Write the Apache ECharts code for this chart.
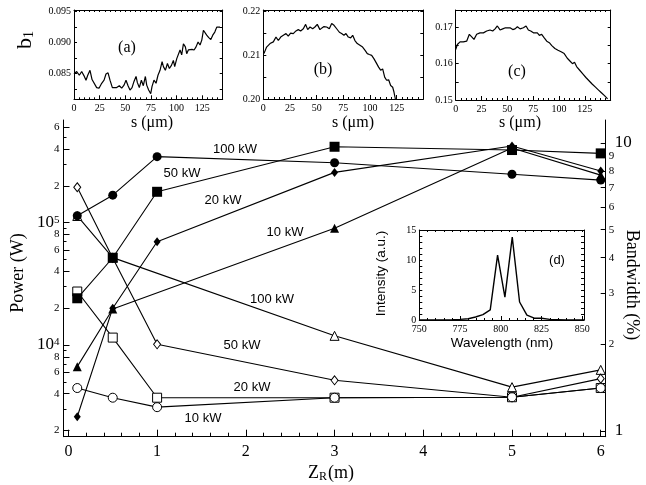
<!DOCTYPE html>
<html>
<head>
<meta charset="utf-8">
<script src="https://cdn.jsdelivr.net/npm/echarts@6.0.0/dist/echarts.min.js"></script>
<style>
  html, body { margin: 0; padding: 0; background: #fff; }
  #chart { width: 646px; height: 485px; }
</style>
</head>
<body>
<div id="chart"></div>
<script>
// ---- main plot data: Z_R (m) ----
var zr = [0.1, 0.5, 1, 3, 5, 6];
// output power (W), filled symbols, left axis
var pow100 = [1.14e5, 1.68e5, 3.47e5, 3.09e5, 2.49e5, 2.23e5];
var pow50  = [2.41e4, 5.17e4, 1.79e5, 4.18e5, 3.93e5, 3.69e5];
var pow20  = [2.59e3, 2.0e4, 6.99e4, 2.58e5, 4.24e5, 2.65e5];
var pow10  = [6.65e3, 1.97e4, null, 9.0e4, 4.08e5, 2.45e5];
// bandwidth (%), open symbols, right axis
var bw100 = [5.58, 4.0, null, 2.14, 1.42, 1.63];
var bw50  = [7.02, 3.99, 2.0, 1.5, 1.31, 1.52];
var bw20  = [3.05, 2.11, 1.305, 1.305, 1.31, 1.41];
var bw10  = [1.41, 1.305, 1.21, 1.305, 1.31, 1.41];

// tick labels
var xLabels = [0, 1, 2, 3, 4, 5, 6];
var powLabels = [2e3, 4e3, 6e3, 8e3, 1e4, 2e4, 4e4, 6e4, 8e4, 1e5, 2e5, 4e5, 6e5];
var powMinor = [3e3, 5e3, 7e3, 9e3, 3e4, 5e4, 7e4, 9e4, 3e5, 5e5];
var bwLabels = [1, 2, 3, 4, 5, 6, 7, 8, 9, 10];

// ---- inset (a) b1 vs s ----
var sA = [0, 2.6, 5.2, 7.5, 9.8, 11.7, 13.4, 15.6, 17.6, 19.5, 22.1, 24.4, 27, 29.3, 31.2, 33.2, 35.1, 37.4, 39.3, 41.6,
  44.2, 46.5, 48.8, 50.7, 52.7, 54.6, 56.6, 58.5, 60.5, 61.8, 63.7, 65.7, 67.6, 69.6, 70.9, 72.8, 74.8, 76.1, 78, 80,
  81.9, 83.9, 85.9, 87.2, 89.1, 91.1, 93, 95, 96.9, 98.2, 100.2, 102.1, 103.4, 105, 106.7, 108.6, 109.9, 111.5, 113.2,
  115.1, 117.1, 119, 121, 122.9, 124.6, 126.2, 127.8, 129.4, 131.4, 133.4, 135.3, 137.3, 139.2, 140.8, 142.4];
var bA = [0.0849, 0.0853, 0.0847, 0.0853, 0.0846, 0.0839, 0.0847, 0.0855, 0.0840, 0.0837, 0.0827, 0.0826, 0.0834, 0.0839,
  0.0849, 0.0851, 0.0839, 0.0827, 0.0826, 0.0827, 0.0830, 0.0826, 0.0831, 0.0839, 0.0830, 0.0823, 0.0827, 0.0837, 0.0845,
  0.0835, 0.0827, 0.0839, 0.0830, 0.0845, 0.0831, 0.0823, 0.0817, 0.0829, 0.0839, 0.0834, 0.0847, 0.0855, 0.0869, 0.0861,
  0.0855, 0.0866, 0.0858, 0.0863, 0.0871, 0.0861, 0.0874, 0.0877, 0.0888, 0.0880, 0.0898, 0.0893, 0.0882, 0.0888, 0.0885,
  0.0889, 0.0888, 0.0893, 0.0901, 0.0896, 0.0904, 0.0920, 0.0917, 0.0912, 0.0908, 0.0905, 0.0912, 0.0917, 0.0925, 0.0922, 0.0925];

// ---- inset (b) ----
var sB = [0.6, 3.1, 6.3, 9.4, 11.9, 14.1, 16.3, 18.8, 21.3, 23.4, 25.6, 28.1, 30.6, 32.8, 35, 37.5, 39.7, 41.6, 43.8, 46.3,
  48.4, 50.6, 53.1, 55, 56.9, 59.4, 61.9, 64.1, 66.3, 68.8, 71.3, 73.4, 75.6, 77.5, 79.7, 81.9, 83.8, 85.9, 88.1, 90.6,
  93.1, 95.6, 97.5, 99.4, 101.6, 103.8, 106.3, 108.1, 110, 111.9, 113.8, 115.6, 117.5, 119.4, 121.3, 122.5, 123.8];
var bB = [0.2104, 0.2119, 0.2127, 0.2131, 0.2142, 0.2134, 0.2142, 0.2146, 0.2150, 0.2144, 0.2151, 0.2150, 0.2156, 0.2159,
  0.2156, 0.2161, 0.2171, 0.2159, 0.2165, 0.2161, 0.2165, 0.2171, 0.2159, 0.2163, 0.2166, 0.2165, 0.2161, 0.2173, 0.2169,
  0.2161, 0.2153, 0.2150, 0.2146, 0.2150, 0.2142, 0.2140, 0.2146, 0.2134, 0.2127, 0.2123, 0.2119, 0.2111, 0.2104, 0.2102,
  0.2100, 0.2092, 0.2081, 0.2073, 0.2066, 0.2069, 0.2050, 0.2043, 0.2044, 0.2031, 0.2027, 0.2016, 0.2000];

// ---- inset (c) ----
var sC = [0, 1.6, 4.2, 7.4, 10.6, 13.2, 15.5, 17.7, 20.3, 23.5, 26.8, 30, 33.2, 35.8, 38.1, 40.3, 42.9, 45.5, 48.1, 50,
  52.6, 55.2, 57.4, 59.7, 62.3, 65.5, 68.1, 70.3, 72.6, 75.2, 77.1, 79, 81, 83.2, 85.5, 88.1, 90.6, 93, 96, 99, 102, 105,
  108, 111, 113, 115, 117, 120, 123, 126, 129, 132, 135, 138, 141, 144, 147];
var bC = [0.1639, 0.1653, 0.1660, 0.1660, 0.1662, 0.1681, 0.1674, 0.1667, 0.1681, 0.1685, 0.1685, 0.1690, 0.1693, 0.1690,
  0.1696, 0.1704, 0.1693, 0.1696, 0.1699, 0.1696, 0.1699, 0.1694, 0.1696, 0.1702, 0.1696, 0.1699, 0.1704, 0.1693, 0.1690,
  0.1685, 0.1681, 0.1685, 0.1678, 0.1681, 0.1672, 0.1662, 0.1658, 0.1650, 0.1642, 0.1637, 0.1633, 0.1628, 0.1615, 0.1606,
  0.1600, 0.1604, 0.1592, 0.1582, 0.1572, 0.1562, 0.1553, 0.1544, 0.1536, 0.1528, 0.1520, 0.1512, 0.1503];

// ---- inset (d) spectrum ----
var wl = [750, 760, 770, 775, 780, 784.5, 789, 793.5, 798, 802.5, 807, 811.5, 816, 820.5, 825, 830, 840, 851];
var inten = [0, 0, 0.05, 0.1, 0.2, 0.5, 0.9, 1.7, 10.8, 3.8, 13.8, 3.0, 0.8, 0.3, 0.3, 0.1, 0, 0];

var SERIF = "'Liberation Serif', 'DejaVu Serif', serif";
var SANS = "'Liberation Sans', Arial, sans-serif";

function steps(a, b, d) {
  var out = [];
  for (var i = 0; a + i * d <= b + d * 1e-6; i++) out.push(+(a + i * d).toFixed(6));
  return out;
}
function lg(arr) { return arr.map(function (v) { return Math.log10(v); }); }

// generic value axis, ticks/labels given explicitly
function axis(o) {
  var a = {
    type: 'value', gridIndex: o.grid, position: o.pos, min: o.min, max: o.max,
    axisLine: { show: o.line !== false, onZero: false, lineStyle: { color: '#000', width: 1 } },
    axisTick: { show: !!o.ticks, inside: true, length: o.len || 4, customValues: o.ticks || [0],
      lineStyle: { color: '#000', width: 1 } },
    axisLabel: { show: false },
    splitLine: { show: false },
    silent: true
  };
  if (o.labels) {
    a.axisLabel = { show: true, customValues: o.labels, formatter: o.fmt, margin: o.margin == null ? 4 : o.margin,
      fontFamily: SERIF, fontSize: o.fs || 10, color: '#000', rich: o.rich };
  }
  return a;
}

function intFmt(v) { return String(Math.round(v)); }

var xAxes = [], yAxes = [];
// main plot (grid 0)
xAxes.push(axis({ grid: 0, pos: 'bottom', min: -0.055, max: 6.056, labels: xLabels, ticks: xLabels, len: 7,
  fmt: intFmt, fs: 16, margin: 7 }));
xAxes.push(axis({ grid: 0, pos: 'bottom', min: -0.055, max: 6.056, ticks: steps(0, 6, 0.2), len: 4, line: false }));
var richPow = {
  b: { fontFamily: SERIF, fontSize: 17, color: '#000' },
  e: { fontFamily: SERIF, fontSize: 11, color: '#000', verticalAlign: 'top' },
  s: { fontFamily: SERIF, fontSize: 11, color: '#000' }
};
yAxes.push(axis({ grid: 0, pos: 'left', min: 3.25, max: 5.84, labels: lg(powLabels), ticks: lg(powLabels), len: 6,
  rich: richPow,
  fmt: function (v) {
    var e = Math.floor(v + 1e-6), m = Math.round(Math.pow(10, v - e));
    return m === 1 ? '{b|10}{e|' + e + '}' : '{s|' + m + '}';
  } }));
yAxes.push(axis({ grid: 0, pos: 'left', min: 3.25, max: 5.84, ticks: lg(powMinor), len: 3, line: false }));
yAxes.push(axis({ grid: 0, pos: 'right', min: -0.0198, max: 1.0799, labels: lg(bwLabels), ticks: lg(bwLabels), len: 5,
  margin: 3,
  rich: {
    b: { fontFamily: SERIF, fontSize: 17, color: '#000', padding: [0, 0, 0, 6] },
    s: { fontFamily: SERIF, fontSize: 11, color: '#000' }
  },
  fmt: function (v) {
    var m = Math.round(Math.pow(10, v));
    return (m === 1 || m === 10) ? '{b|' + m + '}' : '{s|' + m + '}';
  } }));

// boxed insets: each gets bottom(labels), bottom minor, top, left(labels), right
function inset(g, xr, yr, xlab, xmin, ylab, ymaj, yfmt) {
  var xi = xAxes.length, yi = yAxes.length;
  xAxes.push(axis({ grid: g, pos: 'bottom', min: xr[0], max: xr[1], labels: xlab, ticks: xlab, len: 4, fmt: intFmt, margin: 4 }));
  xAxes.push(axis({ grid: g, pos: 'bottom', min: xr[0], max: xr[1], ticks: xmin, len: 2, line: false }));
  xAxes.push(axis({ grid: g, pos: 'top', min: xr[0], max: xr[1], ticks: xmin, len: 2 }));
  yAxes.push(axis({ grid: g, pos: 'left', min: yr[0], max: yr[1], labels: ylab, ticks: ymaj, len: 3, fmt: yfmt, margin: 3 }));
  yAxes.push(axis({ grid: g, pos: 'right', min: yr[0], max: yr[1], ticks: ymaj, len: 3 }));
  return { x: xi, y: yi };
}
var axA = inset(1, [0, 145], [0.0808, 0.09528], steps(0, 125, 25), steps(0, 145, 5),
  [0.085, 0.09, 0.095], steps(0.0825, 0.095, 0.0025), function (v) { return v.toFixed(3); });
var axB = inset(2, [0, 150], [0.2, 0.2204], steps(0, 125, 25), steps(0, 150, 5),
  [0.2, 0.21, 0.22], steps(0.2, 0.22, 0.005), function (v) { return v.toFixed(2); });
var axC = inset(3, [0, 150], [0.15, 0.1748], steps(0, 125, 25), steps(0, 150, 5),
  [0.15, 0.16, 0.17], steps(0.15, 0.17, 0.005), function (v) { return v.toFixed(2); });
var axD = inset(4, [750, 851], [0, 15], steps(750, 850, 25), steps(750, 850, 5),
  [0, 5, 10, 15], steps(0, 15, 1), intFmt);

function mainLine(ys, yIdx, log, symbol, size, filled, z) {
  var data = [];
  zr.forEach(function (x, i) {
    if (ys[i] != null) data.push([x, log ? Math.log10(ys[i]) : ys[i]]);
  });
  return {
    type: 'line', xAxisIndex: 0, yAxisIndex: yIdx, data: data, symbol: symbol, symbolSize: size,
    showSymbol: true, clip: false, z: z,
    lineStyle: { color: '#000', width: 1.1 },
    itemStyle: filled ? { color: '#000', borderWidth: 0 } : { color: '#fff', borderColor: '#000', borderWidth: 1 }
  };
}
function insetLine(ax, xs, ys, w) {
  return {
    type: 'line', xAxisIndex: ax.x, yAxisIndex: ax.y, showSymbol: false, symbol: 'none',
    data: xs.map(function (x, i) { return [x, ys[i]]; }),
    lineStyle: { color: '#000', width: w }
  };
}

var series = [
  // bandwidth, open symbols (right axis index 2)
  mainLine(bw100, 2, true, 'triangle', 9, false, 3),
  mainLine(bw50, 2, true, 'diamond', [7, 9], false, 3),
  mainLine(bw20, 2, true, 'rect', 9, false, 3),
  mainLine(bw10, 2, true, 'circle', 9, false, 3),
  // power, filled symbols (left axis index 0)
  mainLine(pow100, 0, true, 'circle', 9, true, 4),
  mainLine(pow20, 0, true, 'diamond', [7, 9], true, 4),
  mainLine(pow50, 0, true, 'rect', 10, true, 4),
  mainLine(pow10, 0, true, 'triangle', 9, true, 4),
  insetLine(axA, sA, bA, 1.2),
  insetLine(axB, sB, bB, 1.2),
  insetLine(axC, sC, bC, 1.2),
  insetLine(axD, wl, inten, 1.4)
];

function txt(x, y, s, size, font, rot) {
  return { type: 'text', x: x, y: y, rotation: rot || 0, silent: true,
    style: { text: s, fontSize: size, fontFamily: font, fill: '#000', align: 'center', verticalAlign: 'middle' } };
}

var graphics = [
  // series annotations (upper group: power, lower group: bandwidth)
  txt(235, 149, '100 kW', 13, SANS), txt(182, 173, '50 kW', 13, SANS),
  txt(223, 200, '20 kW', 13, SANS), txt(285, 232, '10 kW', 13, SANS),
  txt(272, 299, '100 kW', 13, SANS), txt(242, 345, '50 kW', 13, SANS),
  txt(252, 387, '20 kW', 13, SANS), txt(203, 418, '10 kW', 13, SANS),
  // axis titles
  txt(18, 273, 'Power (W)', 18, SERIF, Math.PI / 2),
  txt(632, 285, 'Bandwidth (%)', 18, SERIF, -Math.PI / 2),
  { type: 'text', x: 331, y: 473, silent: true,
    style: { text: '{a|Z}{s|R}{a|(m)}', align: 'center', verticalAlign: 'middle',
      rich: { a: { fontFamily: SERIF, fontSize: 18, fill: '#000' },
              s: { fontFamily: SERIF, fontSize: 12, fill: '#000', verticalAlign: 'bottom', padding: [8, 1, 0, 0] } } } },
  { type: 'text', x: 25, y: 40, rotation: Math.PI / 2, silent: true,
    style: { text: '{a|b}{s|1}', align: 'center', verticalAlign: 'middle',
      rich: { a: { fontFamily: SERIF, fontSize: 22, fill: '#000' },
              s: { fontFamily: SERIF, fontSize: 14, fill: '#000', verticalAlign: 'bottom', padding: [8, 0, 0, 0] } } } },
  // inset labels
  txt(127, 48, '(a)', 16, SERIF), txt(323, 70, '(b)', 16, SERIF), txt(517, 72, '(c)', 16, SERIF),
  txt(152, 123, 's (\u03bcm)', 16, SERIF), txt(353, 123, 's (\u03bcm)', 16, SERIF), txt(520, 123, 's (\u03bcm)', 16, SERIF),
  txt(557, 260, '(d)', 13, SANS),
  txt(381.5, 273.5, 'Intensity (a.u.)', 13.5, SANS, Math.PI / 2),
  txt(502, 343, 'Wavelength (nm)', 13.5, SANS)
];

var chart = echarts.init(document.getElementById('chart'), null, { renderer: 'canvas' });
chart.setOption({
  animation: false,
  backgroundColor: '#fff',
  grid: [
    { left: 63.5, right: 40.3, top: 120, bottom: 48.3, outerBoundsMode: 'none' },
    { left: 74, right: 423.3, top: 10, bottom: 385.7, outerBoundsMode: 'none' },
    { left: 263.3, right: 222.7, top: 10, bottom: 386, outerBoundsMode: 'none' },
    { left: 455.7, right: 35.3, top: 10, bottom: 385, outerBoundsMode: 'none' },
    { left: 419.3, right: 62, top: 230, bottom: 165, outerBoundsMode: 'none' }
  ],
  xAxis: xAxes,
  yAxis: yAxes,
  series: series,
  graphic: graphics
});
</script>
</body>
</html>
